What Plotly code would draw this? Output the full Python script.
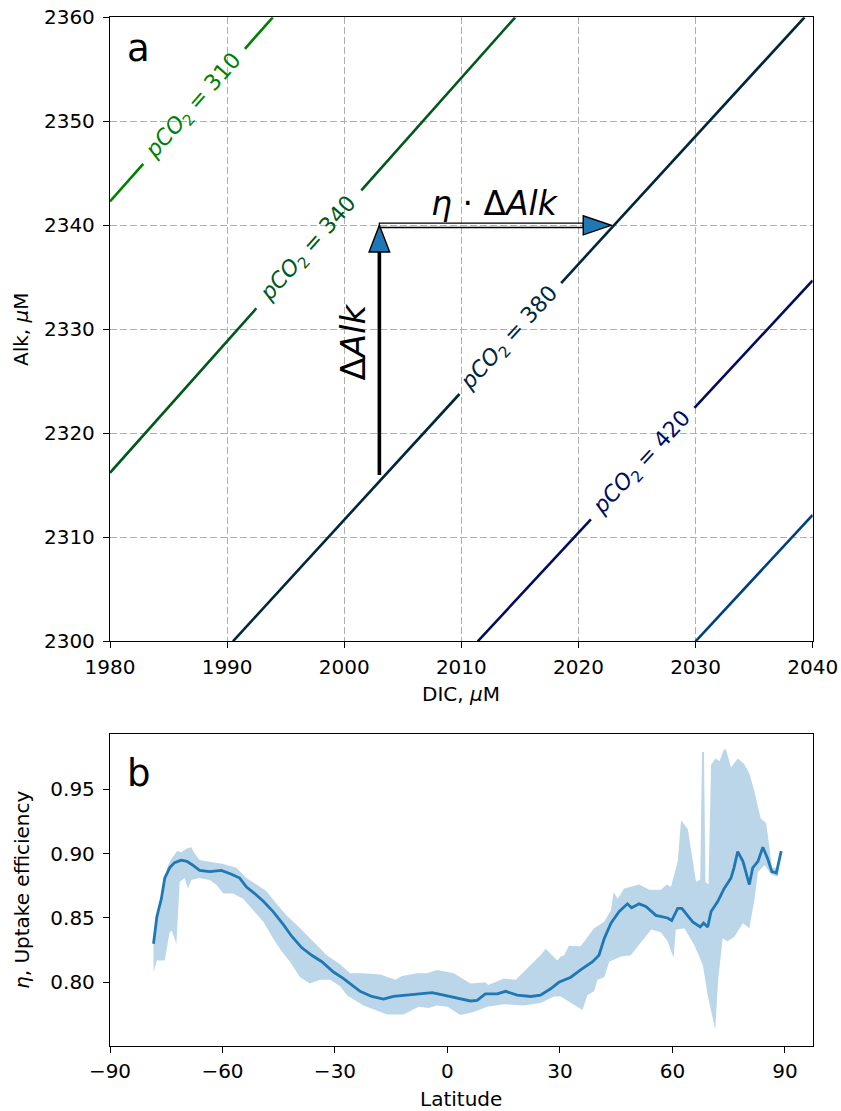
import math
import plotly.graph_objects as go

W, H = 841, 1111
FONT = "DejaVu Sans"

# ---------------- panel a: pCO2 isolines in DIC-Alk space ----------------
pco2_levels = [310, 340, 380, 420, 460]
line_dic_start = [1980.0, 1980.0, 1990.5, 2011.4, 2030.0]
line_alk_start = [2342.3, 2316.2, 2300.0, 2300.0, 2300.0]
line_dic_end = [1993.9, 2014.6, 2039.3, 2040.0, 2040.0]
line_alk_end = [2360.0, 2360.0, 2360.0, 2334.7, 2312.15]
# inline label centre (DIC) and half-width of the gap left for it
label_dic = [1987.18, 1996.98, 2014.18, 2025.48, None]
label_gap = [4.34, 4.48, 4.34, 4.42, None]
line_colors = ["rgb(0,128,0)", "rgb(0,89,26)", "rgb(0,38,60)",
               "rgb(0,13,94)", "rgb(0,64,128)"]

dic_range = [1980, 2040]
alk_range = [2300, 2360]
dic_ticks = [1980, 1990, 2000, 2010, 2020, 2030, 2040]
alk_ticks = [2300, 2310, 2320, 2330, 2340, 2350, 2360]

# alkalinity addition and resulting DIC uptake
arrow_dic = 2003.0
arrow_alk_start = 2316.0
delta_alk = 24.0
eta_example = 0.825

# ---------------- panel b: uptake efficiency vs latitude ----------------
lat_mean = [-78.4, -77.5, -76.3, -75.4, -74.1, -72.8, -71.0, -69.5, -67.9, -66.1,
            -63.4, -60.3, -57.6, -55.4, -53.6, -51.4, -49.1, -46.5, -43.8, -41.6,
            -38.9, -36.2, -33.5, -30.4, -27.8, -23.3, -20.2, -17.1, -14.4, -10.8,
            -7.2, -4.1, -1.0, 2.6, 6.1, 7.9, 10.1, 13.3, 15.5, 18.6,
            22.2, 24.8, 27.5, 29.7, 32.9, 35.5, 38.7, 40.4, 41.8, 43.6,
            45.8, 48.0, 49.1, 51.1, 52.9, 55.6, 58.7, 59.8, 61.4, 62.5,
            65.4, 67.4, 68.3, 69.4, 70.3, 72.1, 73.8, 75.6, 76.4, 77.4,
            78.8, 80.5, 81.4, 82.8, 84.1, 85.4, 86.5, 87.7, 89.0]
eta_mean = [0.830, 0.851, 0.865, 0.881, 0.889, 0.893, 0.895, 0.894, 0.891, 0.887,
            0.886, 0.887, 0.884, 0.881, 0.874, 0.869, 0.863, 0.855, 0.845, 0.836,
            0.827, 0.821, 0.816, 0.808, 0.803, 0.793, 0.789, 0.787, 0.789, 0.790,
            0.791, 0.792, 0.790, 0.788, 0.7855, 0.786, 0.791, 0.791, 0.793, 0.790,
            0.789, 0.790, 0.795, 0.800, 0.804, 0.8096, 0.816, 0.821, 0.834, 0.846,
            0.855, 0.861, 0.858, 0.861, 0.859, 0.852, 0.850, 0.848, 0.8575, 0.8575,
            0.847, 0.843, 0.846, 0.843, 0.855, 0.863, 0.873, 0.881, 0.889, 0.9016,
            0.894, 0.876, 0.889, 0.894, 0.905, 0.896, 0.886, 0.885, 0.902]

lat_upper = [-78.4, -77.2, -75.9, -74.5, -73.6, -72.1, -71.0, -69.5, -68.3, -67.4,
             -66.1, -64.3, -59.8, -56.3, -53.6, -50.9, -48.2, -45.6, -42.9, -39.3,
             -35.8, -32.2, -28.6, -26.0, -22.4, -17.9, -13.9, -12.1, -8.1, -5.5,
             -2.8, 1.7, 6.1, 10.1, 10.9, 15.0, 18.2, 19.9, 22.2, 24.8,
             26.2, 29.3, 30.2, 31.1, 32.4, 35.5, 39.1, 41.8, 43.6, 44.3,
             45.4, 47.1, 51.1, 53.8, 56.9, 58.5, 59.6, 61.4, 62.3, 64.1,
             66.3, 67.4, 67.9, 68.4, 68.8, 69.6, 70.3, 71.4, 72.6, 73.7,
             74.3, 75.6, 77.4, 79.0, 80.5, 81.9, 83.5, 85.0, 85.9, 86.5,
             88.1, 89.0]
eta_upper = [0.833, 0.855, 0.876, 0.891, 0.896, 0.902, 0.901, 0.904, 0.905, 0.900,
             0.895, 0.894, 0.892, 0.889, 0.881, 0.876, 0.8705, 0.861, 0.852, 0.842,
             0.832, 0.821, 0.814, 0.807, 0.807, 0.806, 0.802, 0.805, 0.807, 0.807,
             0.8096, 0.807, 0.799, 0.800, 0.798, 0.803, 0.802, 0.807, 0.8135, 0.821,
             0.826, 0.817, 0.820, 0.821, 0.8285, 0.828, 0.842, 0.847, 0.856, 0.870,
             0.865, 0.873, 0.876, 0.872, 0.872, 0.876, 0.874, 0.894, 0.926, 0.919,
             0.878, 0.880, 0.979, 0.979, 0.878, 0.876, 0.969, 0.974, 0.972, 0.981,
             0.981, 0.967, 0.974, 0.970, 0.9625, 0.948, 0.9275, 0.9236, 0.904, 0.889,
             0.889, 0.903]

lat_lower = [-78.4, -77.5, -75.4, -74.1, -73.5, -72.3, -71.4, -70.1, -69.2, -68.3,
             -66.1, -63.4, -61.6, -59.8, -57.2, -54.5, -51.8, -49.1, -46.5, -44.2,
             -42.0, -39.3, -36.7, -34.0, -31.3, -28.6, -26.8, -22.4, -16.1, -11.7,
             -7.7, -5.0, -2.8, 0.0, 3.4, 7.0, 10.6, 15.0, 20.4, 24.8,
             28.4, 30.2, 32.9, 36.0, 37.3, 39.1, 40.0, 41.8, 43.1, 46.3,
             48.9, 50.7, 54.3, 56.9, 58.7, 60.3, 60.9, 63.2, 65.8, 68.1,
             69.4, 71.4, 72.2, 73.4, 74.7, 76.5, 78.8, 80.5, 81.9, 82.8,
             84.6, 86.3, 88.1, 89.0]
eta_lower = [0.808, 0.817, 0.817, 0.839, 0.840, 0.830, 0.878, 0.881, 0.873, 0.8796,
             0.881, 0.8796, 0.8757, 0.869, 0.869, 0.865, 0.856, 0.847, 0.834, 0.824,
             0.816, 0.804, 0.799, 0.802, 0.802, 0.797, 0.790, 0.782, 0.775, 0.775,
             0.781, 0.780, 0.782, 0.781, 0.7746, 0.777, 0.781, 0.783, 0.782, 0.784,
             0.789, 0.789, 0.784, 0.7785, 0.790, 0.793, 0.802, 0.804, 0.816, 0.820,
             0.821, 0.828, 0.841, 0.839, 0.832, 0.819, 0.841, 0.842, 0.829, 0.8135,
             0.790, 0.763, 0.803, 0.834, 0.832, 0.8355, 0.846, 0.842, 0.865, 0.886,
             0.891, 0.884, 0.882, 0.901]

lat_range = [-90, 97.4]
eta_range = [0.7505, 0.993]
lat_ticks = [-90, -60, -30, 0, 30, 60, 90]
lat_tick_text = ["\u221290", "\u221260", "\u221230", "0", "30", "60", "90"]
eta_ticks = [0.80, 0.85, 0.90, 0.95]

# ---------------- layout geometry (figure pixels) ----------------
AX_L, AX_R = 110.0, 812.7
A_TOP, A_BOT = 17.3, 641.3
B_TOP, B_BOT = 734.0, 1046.0

dom_x = [AX_L / W, AX_R / W]
dom_ya = [1 - A_BOT / H, 1 - A_TOP / H]
dom_yb = [1 - B_BOT / H, 1 - B_TOP / H]

px_per_dic = (AX_R - AX_L) / (dic_range[1] - dic_range[0])
px_per_alk = (A_BOT - A_TOP) / (alk_range[1] - alk_range[0])

fig = go.Figure()
annotations = []
shapes = []

# isolines, broken where the inline label sits
for lvl, xs, ys, xe, ye, lc, lg, col in zip(
        pco2_levels, line_dic_start, line_alk_start, line_dic_end,
        line_alk_end, label_dic, label_gap, line_colors):
    slope = (ye - ys) / (xe - xs)

    def alk_at(d):
        return ys + slope * (d - xs)

    if lc is None:
        xx, yy = [xs, xe], [ys, ye]
    else:
        g0, g1 = lc - lg, lc + lg
        xx = [xs, g0, None, g1, xe]
        yy = [ys, alk_at(g0), None, alk_at(g1), ye]
    fig.add_trace(go.Scatter(x=xx, y=yy, mode="lines", xaxis="x", yaxis="y",
                             line=dict(color=col, width=2.6),
                             connectgaps=False, hoverinfo="skip",
                             showlegend=False))
    if lc is not None:
        ang = math.degrees(math.atan(slope * px_per_alk / px_per_dic))
        annotations.append(dict(
            x=lc, y=alk_at(lc), xref="x", yref="y", showarrow=False,
            text=f"<i>pCO</i><sub>2</sub> = {lvl}", textangle=-ang,
            font=dict(family=FONT, size=22, color=col)))

# vertical arrow: alkalinity addition
alk_tip = arrow_alk_start + delta_alk
v_head_len = 26.7 / px_per_alk
v_head_half = 10.3 / px_per_dic
fig.add_trace(go.Scatter(x=[arrow_dic, arrow_dic],
                         y=[arrow_alk_start, alk_tip - v_head_len],
                         mode="lines", xaxis="x", yaxis="y",
                         line=dict(color="black", width=3.6),
                         hoverinfo="skip", showlegend=False))
shapes.append(dict(
    type="path", xref="x", yref="y", layer="above",
    path=(f"M {arrow_dic - v_head_half},{alk_tip - v_head_len} "
          f"L {arrow_dic + v_head_half},{alk_tip - v_head_len} "
          f"L {arrow_dic},{alk_tip} Z"),
    fillcolor="#1f77b4", line=dict(color="black", width=1.4)))

# horizontal arrow: resulting DIC uptake
dic_tip = arrow_dic + eta_example * delta_alk
h_head_len = 28.0 / px_per_dic
h_head_half = 9.5 / px_per_alk
shaft_half = 2.2 / px_per_alk
shapes.append(dict(
    type="rect", xref="x", yref="y", layer="above",
    x0=arrow_dic, x1=dic_tip - h_head_len,
    y0=alk_tip - shaft_half, y1=alk_tip + shaft_half,
    fillcolor="rgba(0,0,0,0)", line=dict(color="black", width=1.3)))
shapes.append(dict(
    type="path", xref="x", yref="y", layer="above",
    path=(f"M {dic_tip - h_head_len},{alk_tip - h_head_half} "
          f"L {dic_tip - h_head_len},{alk_tip + h_head_half} "
          f"L {dic_tip},{alk_tip} Z"),
    fillcolor="#1f77b4", line=dict(color="black", width=1.4)))

annotations.append(dict(
    x=2000.72, y=arrow_alk_start + delta_alk / 2 + 0.8, xref="x", yref="y",
    showarrow=False, text="\u0394<i>Alk</i>", textangle=-90,
    font=dict(family=FONT, size=34, color="black")))
annotations.append(dict(
    x=(arrow_dic + dic_tip) / 2, y=alk_tip + 2.1, xref="x", yref="y",
    showarrow=False, text="<i>\u03b7</i> \u00b7 \u0394<i>Alk</i>",
    font=dict(family=FONT, size=33, color="black")))

# ---------------- panel b traces ----------------
band_x = lat_upper + lat_lower[::-1]
band_y = eta_upper + eta_lower[::-1]
fig.add_trace(go.Scatter(x=band_x, y=band_y, mode="lines", fill="toself",
                         fillcolor="rgba(31,119,180,0.3)",
                         line=dict(width=0, color="rgba(0,0,0,0)"),
                         xaxis="x2", yaxis="y2", hoverinfo="skip",
                         showlegend=False))
fig.add_trace(go.Scatter(x=lat_mean, y=eta_mean, mode="lines",
                         line=dict(color="#1f77b4", width=2.8),
                         xaxis="x2", yaxis="y2", showlegend=False))

# ---------------- text: axis titles and panel letters ----------------
def paper_text(text, px, py, size, angle=0, xanchor="center"):
    annotations.append(dict(
        x=px / W, y=1 - py / H, xref="paper", yref="paper", showarrow=False,
        text=text, textangle=angle, xanchor=xanchor, yanchor="middle",
        font=dict(family=FONT, size=size, color="black")))

paper_text("DIC, <i>\u03bc</i>M", 461, 694, 20)
paper_text("Alk, <i>\u03bc</i>M", 21, 329, 20, angle=-90)
paper_text("Latitude", 461, 1099, 20)
paper_text("<i>\u03b7</i>, Uptake efficiency", 22, 890, 20, angle=-90)
paper_text("a", 138, 48, 37)
paper_text("b", 139, 773, 37)

axis_common = dict(
    showline=True, linecolor="black", linewidth=1.3, mirror=True,
    ticks="outside", ticklen=6, tickwidth=1.3, tickcolor="black",
    tickfont=dict(family=FONT, size=20, color="black"),
    zeroline=False)
grid = dict(showgrid=True, gridcolor="#b0b0b0", gridwidth=1.1,
            griddash="7px,3px")

fig.update_layout(
    width=W, height=H,
    margin=dict(l=0, r=0, t=0, b=0, autoexpand=False),
    paper_bgcolor="white", plot_bgcolor="white",
    showlegend=False,
    font=dict(family=FONT, color="black"),
    xaxis=dict(domain=dom_x, anchor="y", range=dic_range,
               tickmode="array", tickvals=dic_ticks, ticklabelstandoff=2,
               **grid, **axis_common),
    yaxis=dict(domain=dom_ya, anchor="x", range=alk_range,
               tickmode="array", tickvals=alk_ticks, ticklabelstandoff=4,
               **grid, **axis_common),
    xaxis2=dict(domain=dom_x, anchor="y2", range=lat_range,
                tickmode="array", tickvals=lat_ticks, ticktext=lat_tick_text,
                ticklabelstandoff=1, showgrid=False, **axis_common),
    yaxis2=dict(domain=dom_yb, anchor="x2", range=eta_range,
                tickmode="array", tickvals=eta_ticks, tickformat=".2f",
                ticklabelstandoff=4, showgrid=False, **axis_common),
    annotations=annotations,
    shapes=shapes,
)

fig.write_html("out.html")
